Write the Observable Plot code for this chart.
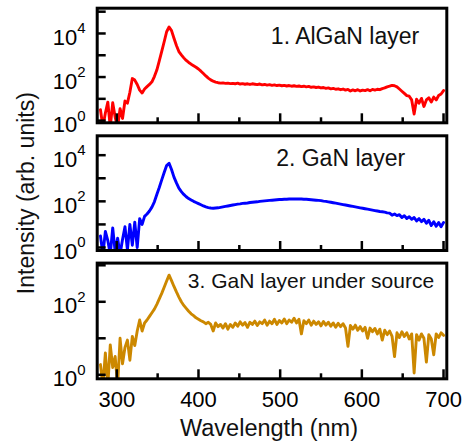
<!DOCTYPE html>
<html><head><meta charset="utf-8">
<script src="https://cdn.jsdelivr.net/npm/d3@7"></script>
<script src="https://cdn.jsdelivr.net/npm/@observablehq/plot@0.6"></script>
<style>
html,body{margin:0;padding:0;background:#fff;}
#chart{position:relative;width:462px;height:445px;overflow:hidden;background:#fff;}
#chart svg{position:absolute;left:0;}
</style></head><body><div id="chart"></div>
<script>
// wavelength grid (nm)
const wavelength = [
280,283,286,289,292,295,298,301,304,307,
310,313,316,319,322,325,328,331,334,337,
340,343,346,349,352,355,358,361,364,367,
370,373,376,379,382,385,388,391,394,397,
400,403,406,409,412,415,418,421,424,427,
430,433,436,439,442,445,448,451,454,457,
460,463,466,469,472,475,478,481,484,487,
490,493,496,499,502,505,508,511,514,517,
520,523,526,529,532,535,538,541,544,547,
550,553,556,559,562,565,568,571,574,577,
580,583,586,589,592,595,598,601,604,607,
610,613,616,619,622,625,628,631,634,637,
640,643,646,649,652,655,658,661,664,667,
670,673,676,679,682,685,688,691,694,697,
700];
// log10(intensity)
const alganLog10 = [
0.5,-0.3,0.35,0.85,-0.3,0.82,0.15,-0.3,0.55,0.1,
0.9,0.8,1.3,1.93,1.86,1.66,1.40,1.27,1.45,1.56,
1.66,1.78,2.02,2.32,2.74,3.18,3.62,4.08,4.3,4.13,
3.78,3.45,3.17,3.02,2.88,2.76,2.67,2.59,2.52,2.45,
2.37,2.27,2.16,2.05,1.95,1.87,1.81,1.77,1.74,1.72,
1.73,1.71,1.72,1.70,1.71,1.69,1.72,1.68,1.70,1.67,
1.69,1.66,1.69,1.67,1.65,1.68,1.64,1.66,1.63,1.65,
1.62,1.64,1.61,1.63,1.60,1.62,1.59,1.61,1.58,1.60,
1.57,1.59,1.56,1.58,1.55,1.57,1.53,1.55,1.52,1.54,
1.50,1.52,1.48,1.50,1.46,1.48,1.44,1.46,1.42,1.45,
1.40,1.43,1.36,1.41,1.37,1.42,1.36,1.40,1.38,1.42,
1.37,1.43,1.40,1.44,1.42,1.47,1.50,1.55,1.58,1.62,
1.60,1.55,1.45,1.35,1.25,1.15,1.12,0.95,0.30,0.98,
0.80,1.02,0.65,0.95,1.05,0.85,1.08,0.95,1.15,1.22,
1.38];
const ganLog10 = [
0.5,-0.3,0.7,0.3,-0.3,0.85,-0.2,0.4,-0.3,0.35,
0.9,-0.1,1.0,0.1,1.1,0.0,1.25,1.0,1.35,1.45,
1.58,1.75,1.98,2.3,2.6,2.93,3.25,3.55,3.65,3.38,
3.05,2.8,2.57,2.42,2.3,2.2,2.12,2.06,2.0,1.95,
1.9,1.85,1.80,1.76,1.73,1.71,1.70,1.71,1.72,1.74,
1.76,1.78,1.80,1.82,1.84,1.86,1.88,1.89,1.91,1.92,
1.93,1.95,1.96,1.97,1.98,2.0,2.01,2.02,2.03,2.04,
2.05,2.06,2.07,2.08,2.08,2.09,2.09,2.10,2.10,2.10,
2.10,2.10,2.10,2.09,2.09,2.08,2.07,2.06,2.05,2.04,
2.03,2.01,2.0,1.98,1.96,1.94,1.92,1.90,1.88,1.86,
1.84,1.82,1.80,1.78,1.76,1.74,1.72,1.70,1.68,1.66,
1.64,1.62,1.60,1.58,1.56,1.55,1.53,1.50,1.49,1.40,
1.45,1.38,1.42,1.30,1.38,1.26,1.33,1.22,1.30,1.15,
1.25,1.12,1.22,1.05,1.18,0.95,1.12,0.92,1.08,0.90,
1.08];
const ganSourceLog10 = [
0.28,-0.3,0.6,-0.3,0.82,0.2,0.5,-0.3,1.0,0.3,
0.75,0.95,0.4,1.05,0.8,1.2,1.5,1.2,1.42,1.5,
1.6,1.7,1.8,1.93,2.08,2.23,2.4,2.57,2.73,2.58,
2.42,2.27,2.13,2.0,1.9,1.82,1.74,1.67,1.62,1.56,
1.52,1.48,1.45,1.40,1.44,1.38,1.2,1.42,1.32,1.38,
1.28,1.40,1.25,1.38,1.30,1.42,1.33,1.45,1.36,1.43,
1.30,1.44,1.38,1.47,1.35,1.45,1.40,1.50,1.36,1.47,
1.40,1.52,1.38,1.49,1.42,1.53,1.40,1.50,1.44,1.55,
1.42,1.52,1.12,1.48,1.40,1.50,1.36,1.47,1.38,1.45,
1.34,1.46,1.36,1.44,1.33,1.42,1.30,1.41,1.32,1.40,
1.28,0.78,1.35,1.25,1.36,1.22,1.32,1.20,1.30,1.0,
1.28,1.18,1.27,1.12,1.25,0.95,1.22,1.10,1.20,1.05,
0.5,1.15,1.02,1.18,1.05,1.15,0.98,1.12,0.05,1.10,
0.95,1.12,1.0,0.35,1.10,0.98,0.55,1.12,1.02,1.15,
1.08];
const titles = ["1. AlGaN layer", "2. GaN layer", "3. GaN layer under source"];
const colors = ["#ff0000", "#0000ff", "#cc8800"];
const xMajorTicks = [300, 400, 500, 600, 700];
const xMinorTicks = [350, 450, 550, 650];
const yTickExponents = [[0,1,2,3,4,5],[0,1,2,3,4],[0,1,2,3]];
const yLabelExponents = [[0,2,4],[0,2,4],[0,2]];
const xLabel = "Wavelength (nm)";
const yLabel = "Intensity (arb. units)";

const seriesList = [alganLog10, ganLog10, ganSourceLog10];
const W = 462, ML = 96.7, MR = 15.7;
const cfg = [
  {top: 0,   height: 130, mt: 7.7, mb: 7.7,  ydom: [10**-0.1, 10**5.16], tdx: 73,   tdy: 35.6, tfs: 23},
  {top: 127, height: 130, mt: 8.3, mb: 7,    ydom: [10**-0.13, 10**4.84], tdx: 68.7, tdy: 29.7, tfs: 23},
  {top: 254, height: 191, mt: 8.6, mb: 66.7, ydom: [10**-0.11, 10**3.06], tdx: 39,   tdy: 24.7, tfs: 21}
];
const font = '"Liberation Sans", Arial, Helvetica, sans-serif';
const chart = document.getElementById("chart");

cfg.forEach((c, i) => {
  const table = wavelength.map((w, j) => ({wavelength: w, intensity: 10 ** seriesList[i][j]}));
  const plotH = c.height - c.mt - c.mb;
  const plotW = W - ML - MR;
  const labels = yLabelExponents[i];
  const marks = [
    Plot.line(table, {x: "wavelength", y: "intensity", stroke: colors[i], strokeWidth: 2.9, strokeLinejoin: "round", clip: true}),
    Plot.tickX(xMajorTicks, {x: d => d, insetTop: plotH - 9, strokeWidth: 2.5, stroke: "black"}),
    Plot.tickX(xMinorTicks, {x: d => d, insetTop: plotH - 5, strokeWidth: 2.5, stroke: "black"}),
    Plot.tickY(yTickExponents[i].map(e => 10 ** e), {y: d => d, insetRight: plotW - 9, strokeWidth: 2.5, stroke: "black"}),
    Plot.frame({stroke: "black", strokeWidth: 3}),
    Plot.text(labels, {y: d => 10 ** d, text: () => "10", frameAnchor: "left", textAnchor: "end", lineAnchor: "bottom", dx: -20, dy: 11.5, fontSize: 22, fill: "black"}),
    Plot.text(labels, {y: d => 10 ** d, text: d => String(d), frameAnchor: "left", textAnchor: "start", lineAnchor: "bottom", dx: -20, dy: 0, fontSize: 15, fill: "black"}),
    Plot.text([titles[i]], {frameAnchor: "top", textAnchor: "middle", lineAnchor: "bottom", dx: c.tdx, dy: c.tdy, fontSize: c.tfs, fill: "#111"})
  ];
  if (i === 1) {
    marks.push(Plot.text([yLabel], {frameAnchor: "left", rotate: -90, textAnchor: "middle", lineAnchor: "bottom", dx: -63.4, fontSize: 23, fill: "#111"}));
  }
  if (i === 2) {
    marks.push(Plot.text(xMajorTicks, {x: d => d, text: d => String(d), frameAnchor: "bottom", textAnchor: "middle", lineAnchor: "bottom", dy: 28.4, fontSize: 22, fill: "black"}));
    marks.push(Plot.text([xLabel], {frameAnchor: "bottom", textAnchor: "middle", lineAnchor: "bottom", dx: -3, dy: 57.2, fontSize: 23.5, fill: "#111"}));
  }
  const svg = Plot.plot({
    width: W, height: c.height,
    marginLeft: ML, marginRight: MR, marginTop: c.mt, marginBottom: c.mb,
    x: {type: "linear", domain: [276, 704], axis: null},
    y: {type: "log", domain: c.ydom, axis: null},
    style: {fontFamily: font, overflow: "visible", background: "transparent", color: "black"},
    marks
  });
  svg.style.top = c.top + "px";
  chart.appendChild(svg);
});
</script>
</body></html>
